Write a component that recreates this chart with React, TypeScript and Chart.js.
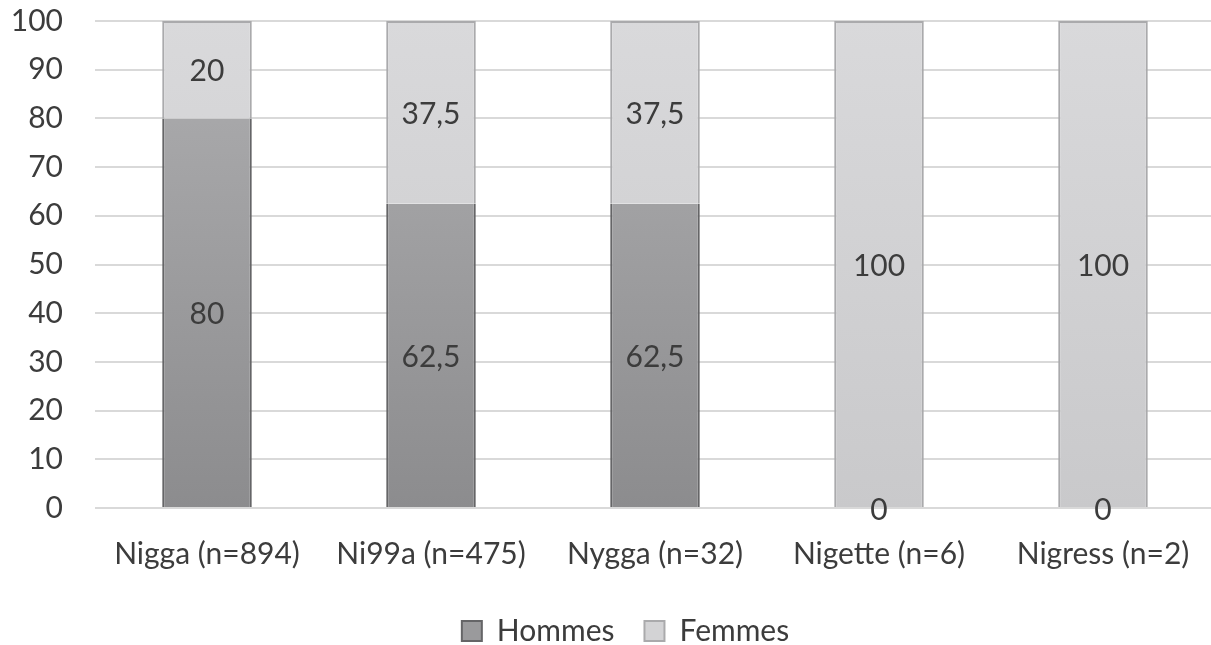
import React, { useEffect, useRef } from "react";
import { Chart, registerables } from "chart.js";

Chart.register(...registerables);

const categories = ["Nigga (n=894)", "Ni99a (n=475)", "Nygga (n=32)", "Nigette (n=6)", "Nigress (n=2)"];
const hommes = [80, 62.5, 62.5, 0, 0];
const femmes = [20, 37.5, 37.5, 100, 100];
const yTicks = [0, 10, 20, 30, 40, 50, 60, 70, 80, 90, 100];

const FONT = "Lato, 'Open Sans', sans-serif";
const TEXT = "#3c3c3c";

const fmt = (v: number) => String(v).replace(".", ",");

const dataLabels = {
  id: "dataLabels",
  afterDatasetsDraw(chart: any) {
    const ctx = chart.ctx;
    ctx.save();
    ctx.font = `30px ${FONT}`;
    ctx.fillStyle = TEXT;
    ctx.textAlign = "center";
    ctx.textBaseline = "middle";
    chart.data.datasets.forEach((ds: any, di: number) => {
      const meta = chart.getDatasetMeta(di);
      meta.data.forEach((el: any, i: number) => {
        const v = ds.data[i];
        const y = (el.y + el.base) / 2;
        ctx.fillText(fmt(v), el.x, y + 2);
      });
    });
    ctx.restore();
  },
};

const legendShift = {
  id: "legendShift",
  afterLayout(chart: any) {
    const lg = chart.legend;
    if (lg) {
      lg.left += 18;
      lg.right += 18;
    }
  },
};

function grad(ctx: any, top: string, bottom: string) {
  const chart = ctx.chart;
  const area = chart.chartArea;
  if (!area) return top;
  const g = chart.ctx.createLinearGradient(0, area.top, 0, area.bottom);
  g.addColorStop(0, top);
  g.addColorStop(1, bottom);
  return g;
}

export default function App() {
  const ref = useRef<HTMLCanvasElement>(null);
  useEffect(() => {
    const chart = new Chart(ref.current!, {
      type: "bar",
      data: {
        labels: categories,
        datasets: [
          {
            label: "Hommes",
            data: hommes,
            backgroundColor: (c: any) => grad(c, "#aeaeb0", "#8c8c8e"),
            borderColor: "#656567",
            borderWidth: { left: 2, right: 2, top: 0, bottom: 0 },
            borderSkipped: false,
            barPercentage: 0.4,
            categoryPercentage: 1,
          },
          {
            label: "Femmes",
            data: femmes,
            backgroundColor: (c: any) => grad(c, "#d9d9db", "#c9c9cb"),
            borderColor: "#aaaaac",
            borderWidth: { left: 2, right: 2, top: 2, bottom: 0 },
            borderSkipped: false,
            barPercentage: 0.4,
            categoryPercentage: 1,
          },
        ],
      },
      options: {
        responsive: false,
        animation: false,
        devicePixelRatio: 1,
        layout: { padding: { top: 21, right: 5, left: 0, bottom: 0 } },
        scales: {
          x: {
            stacked: true,
            grid: { display: false },
            border: { display: false },
            ticks: { color: TEXT, font: { family: FONT, size: 30 }, padding: 20, maxRotation: 0 },
            afterFit: (s: any) => { s.height = 78; s.paddingLeft = 0; s.paddingRight = 0; },
          },
          y: {
            stacked: true,
            min: 0,
            max: 100,
            afterBuildTicks: (s: any) => { s.ticks = yTicks.map((v) => ({ value: v })); },
            grid: { color: "#d9d9d9", lineWidth: 2, drawTicks: false },
            border: { display: false },
            ticks: { color: TEXT, font: { family: FONT, size: 30 }, padding: 32 },
            afterFit: (s: any) => { s.width = 95; s.paddingTop = 0; s.paddingBottom = 0; },
          },
        },
        plugins: {
          tooltip: { enabled: false },
          legend: {
            position: "bottom",
            maxHeight: 59,
            labels: {
              color: TEXT,
              font: { family: FONT, size: 30 },
              boxWidth: 20,
              boxHeight: 20,
              padding: 30,
              generateLabels: () => [
                { text: "Hommes", fillStyle: "#9a9a9c", strokeStyle: "#656567", lineWidth: 2, fontColor: TEXT, datasetIndex: 0 },
                { text: "Femmes", fillStyle: "#d3d3d5", strokeStyle: "#aaaaac", lineWidth: 2, fontColor: TEXT, datasetIndex: 1 },
              ],
            },
          },
        },
      } as any,
      plugins: [dataLabels, legendShift],
    });
    return () => chart.destroy();
  }, []);
  return (
    <div style={{ position: "fixed", left: 0, top: 0, width: 1220, height: 645, background: "#fff" }}>
      <canvas ref={ref} width={1220} height={645} />
    </div>
  );
}
